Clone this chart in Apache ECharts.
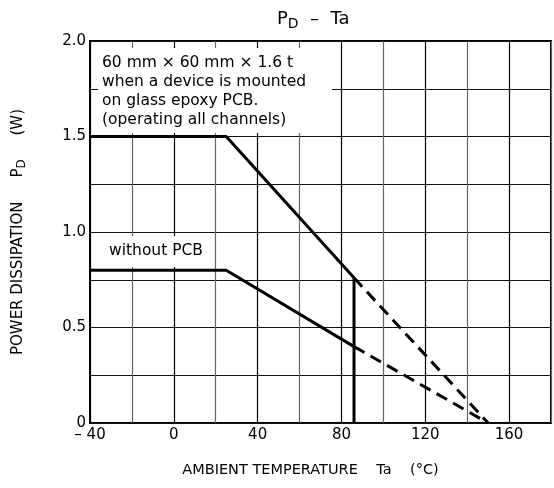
<!DOCTYPE html>
<html>
<head>
<meta charset="utf-8">
<script src="https://cdn.jsdelivr.net/npm/echarts@6/dist/echarts.min.js"></script>
<style>
  html, body { margin: 0; padding: 0; background: #fff; }
  #chart { width: 554px; height: 488px; }
</style>
</head>
<body>
<div id="chart"></div>
<script>
// curve data
const pcbTemp = [-40, 25, 86];
const pcbPower = [1.5, 1.5, 0.76];
const pcbDashTemp = [86, 150];
const pcbDashPower = [0.76, 0];

const barePower = [0.8, 0.8, 0.4];
const bareTemp = [-40, 25, 86];
const bareDashTemp = [86, 150];
const bareDashPower = [0.4, 0];

const limitTemp = [86, 86];
const limitPower = [0, 0.76];

const xTicks = [-40, 0, 40, 80, 120, 160];
const yTicks = [0, 0.5, 1.0, 1.5, 2.0];

const font = 'DejaVu Sans';

const zip = (xs, ys) => xs.map((x, i) => [x, ys[i]]);

function lineSeries(data, dashed) {
  return {
    type: 'line',
    data: data,
    symbol: 'none',
    silent: true,
    lineStyle: {
      color: '#000',
      width: 3,
      type: dashed ? [12, 7] : 'solid'
    }
  };
}

const chart = echarts.init(document.getElementById('chart'));
chart.setOption({
  animation: false,
  title: {
    text: '{a|P}{s|D}{a|  –  Ta}',
    left: 272,
    top: 2,
    textStyle: {
      fontWeight: 'normal',
      rich: {
        a: { fontFamily: font, fontSize: 18, color: '#000', fontWeight: 'normal' },
        s: { fontFamily: font, fontSize: 14, color: '#000', fontWeight: 'normal', padding: [10, 0, 0, 0] }
      }
    }
  },
  grid: {
    left: 90, right: 3, top: 41, bottom: 65,
    show: true,
    borderColor: '#000',
    borderWidth: 2
  },
  xAxis: {
    type: 'value',
    min: -40, max: 180, interval: 20,
    name: 'AMBIENT TEMPERATURE    Ta    (°C)',
    nameLocation: 'middle',
    nameGap: 40,
    nameTextStyle: { fontFamily: font, fontSize: 14.5, color: '#000', padding: [0, 0, 0, -20] },
    axisLine: { show: false },
    axisTick: { show: false },
    axisLabel: {
      fontFamily: font, fontSize: 15, color: '#000', margin: 5,
      formatter: v => xTicks.includes(v) ? (v < 0 ? '– ' + Math.abs(v) : String(v)) : ''
    },
    splitLine: { show: true, lineStyle: { color: ['#000', '#666'], width: 1.2 } }
  },
  yAxis: {
    type: 'value',
    min: 0, max: 2, interval: 0.25,
    name: '{a|POWER DISSIPATION     P}{s|D}{a|     (W)}',
    nameLocation: 'middle',
    nameGap: 62,
    nameTextStyle: {
      rich: {
        a: { fontFamily: font, fontSize: 15, color: '#000' },
        s: { fontFamily: font, fontSize: 12, color: '#000', padding: [8, 0, 0, 0] }
      }
    },
    axisLine: { show: false },
    axisTick: { show: false },
    axisLabel: {
      fontFamily: font, fontSize: 15, color: '#000', margin: 4,
      formatter: v => yTicks.includes(v) ? (v === 0 ? '0' : v.toFixed(1)) : ''
    },
    splitLine: { show: true, lineStyle: { color: '#111', width: 1 } }
  },
  graphic: [
    {
      type: 'rect', left: 98, top: 48, z: 100,
      shape: { width: 234, height: 85 }, style: { fill: '#fff' }
    },
    {
      type: 'text', left: 102, top: 53, z: 101,
      style: {
        text: '60 mm × 60 mm × 1.6 t\nwhen a device is mounted\non glass epoxy PCB.\n(operating all channels)',
        font: '15.5px "DejaVu Sans"', lineHeight: 19, fill: '#000'
      }
    },
    {
      type: 'rect', left: 100, top: 236, z: 100,
      shape: { width: 112, height: 31 }, style: { fill: '#fff' }
    },
    {
      type: 'text', left: 109, top: 243, z: 101,
      style: { text: 'without PCB', font: '15.5px "DejaVu Sans"', fill: '#000' }
    }
  ],
  series: [
    lineSeries(zip(pcbTemp, pcbPower), false),
    lineSeries(zip(pcbDashTemp, pcbDashPower), true),
    lineSeries(zip(bareTemp, barePower), false),
    lineSeries(zip(bareDashTemp, bareDashPower), true),
    lineSeries(zip(limitTemp, limitPower), false)
  ]
});
</script>
</body>
</html>
